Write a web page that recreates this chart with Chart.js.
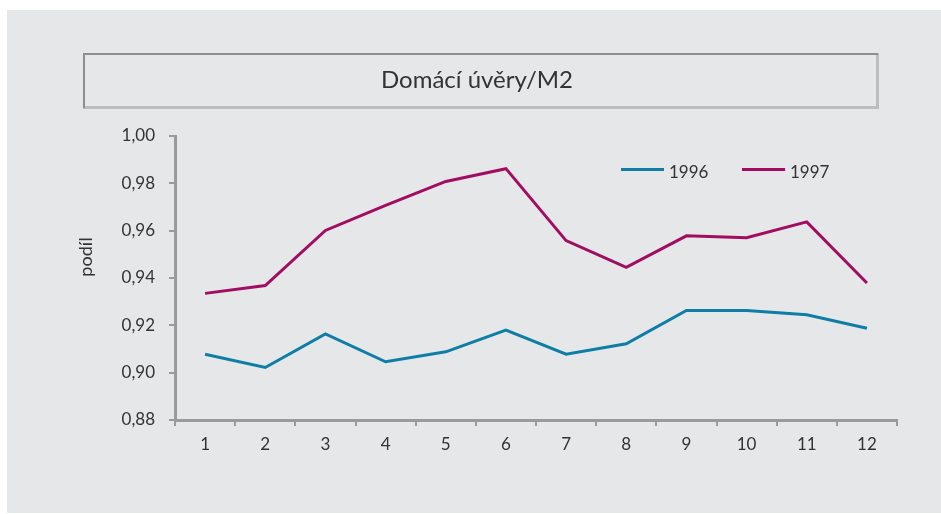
<!DOCTYPE html>
<html lang="cs">
<head>
<meta charset="UTF-8">
<title>Domácí úvěry/M2</title>
<script src="https://cdn.jsdelivr.net/npm/chart.js"></script>
<style>
  html, body { margin: 0; padding: 0; background: #ffffff; }
  #chart { display: block; }
</style>
</head>
<body>
<canvas id="chart" width="941" height="514"></canvas>
<script>
// data
const months = ['1', '2', '3', '4', '5', '6', '7', '8', '9', '10', '11', '12'];
const values1996 = [0.9078, 0.9022, 0.9164, 0.9046, 0.9088, 0.9180, 0.9078, 0.9122, 0.9263, 0.9263, 0.9245, 0.9188];
const values1997 = [0.9335, 0.9368, 0.9601, 0.9707, 0.9808, 0.9862, 0.9558, 0.9445, 0.9578, 0.9570, 0.9637, 0.9379];
const yTicks = [0.88, 0.90, 0.92, 0.94, 0.96, 0.98, 1.00];
const titleText = 'Domácí úvěry/M2';
const yTitle = 'podíl';

const FONT = "Lato, 'Open Sans', sans-serif";
const TEXT = '#333333';
const AXIS = '#9a9a9a';

// grey panel, framed title and the y-axis caption
const frame = {
  id: 'frame',
  beforeDraw(chart) {
    const ctx = chart.ctx;
    ctx.save();
    ctx.fillStyle = '#e6e7e9';
    ctx.fillRect(7, 10, 934, 503);
    // title box: lighter right/bottom, darker top/left
    ctx.fillStyle = '#bdbdbd';
    ctx.fillRect(83, 106, 796, 3);
    ctx.fillRect(876, 53, 3, 56);
    ctx.fillStyle = '#8e8e8e';
    ctx.fillRect(83, 53, 795, 2);
    ctx.fillRect(83, 53, 2, 55);
    ctx.fillStyle = TEXT;
    ctx.font = '24px ' + FONT;
    ctx.textAlign = 'center';
    ctx.textBaseline = 'alphabetic';
    ctx.fillText(titleText, 477, 88);
    // y caption, rotated
    ctx.translate(86, 257);
    ctx.rotate(-Math.PI / 2);
    ctx.font = '18px ' + FONT;
    ctx.textBaseline = 'middle';
    ctx.fillText(yTitle, 0, 0);
    ctx.restore();
  }
};

// legend inside the plot, top right
const lineLegend = {
  id: 'lineLegend',
  afterDraw(chart) {
    const ctx = chart.ctx;
    const spots = [621, 742];
    ctx.save();
    ctx.font = '17px ' + FONT;
    ctx.textBaseline = 'middle';
    ctx.textAlign = 'left';
    chart.data.datasets.forEach((ds, i) => {
      const x = spots[i];
      ctx.strokeStyle = ds.borderColor;
      ctx.lineWidth = 3;
      ctx.beginPath();
      ctx.moveTo(x, 169.5);
      ctx.lineTo(x + 43, 169.5);
      ctx.stroke();
      ctx.fillStyle = TEXT;
      ctx.fillText(ds.label, x + 48, 173);
    });
    ctx.restore();
  }
};

new Chart(document.getElementById('chart'), {
  type: 'line',
  data: {
    labels: months,
    datasets: [
      { label: '1996', data: values1996, borderColor: '#0e7ea6', borderWidth: 3 },
      { label: '1997', data: values1997, borderColor: '#a10d60', borderWidth: 3 }
    ]
  },
  options: {
    responsive: false,
    animation: false,
    layout: { padding: { left: 75, right: 44, top: 136, bottom: 54 } },
    elements: {
      point: { radius: 0 },
      line: { tension: 0, borderCapStyle: 'butt', borderJoinStyle: 'miter' }
    },
    plugins: {
      legend: { display: false },
      tooltip: { enabled: false },
      title: { display: false }
    },
    scales: {
      x: {
        offset: true,
        afterFit(scale) { scale.height = 40; },
        grid: { offset: true, drawOnChartArea: false, drawTicks: true, tickLength: 6, color: AXIS, lineWidth: 2 },
        border: { color: AXIS, width: 3 },
        ticks: { color: TEXT, font: { family: FONT, size: 17 }, padding: 8, maxRotation: 0 }
      },
      y: {
        min: 0.88,
        max: 1.00,
        afterFit(scale) { scale.width = 100; },
        afterBuildTicks(scale) { scale.ticks = yTicks.map(v => ({ value: v })); },
        grid: { drawOnChartArea: false, drawTicks: true, tickLength: 6, color: AXIS, lineWidth: 2 },
        border: { color: AXIS, width: 3 },
        ticks: {
          color: TEXT,
          font: { family: FONT, size: 17 },
          padding: 14,
          callback: v => Number(v).toFixed(2).replace('.', ',')
        }
      }
    }
  },
  plugins: [frame, lineLegend]
});
</script>
</body>
</html>
